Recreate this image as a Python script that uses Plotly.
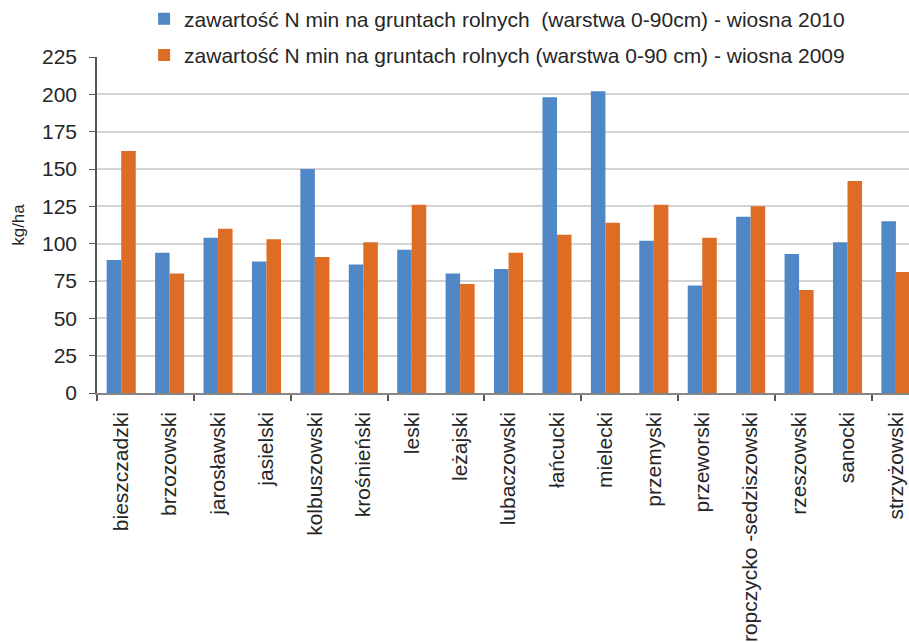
import plotly.graph_objects as go

categories = ["bieszczadzki", "brzozowski", "jarosławski", "jasielski", "kolbuszowski",
              "krośnieński", "leski", "leżajski", "lubaczowski", "łańcucki", "mielecki",
              "przemyski", "przeworski", "ropczycko -sedziszowski", "rzeszowski", "sanocki",
              "strzyżowski"]
spring_2010 = [89, 94, 104, 88, 150, 86, 96, 80, 83, 198, 202, 102, 72, 118, 93, 101, 115]
spring_2009 = [162, 80, 110, 103, 91, 101, 126, 73, 94, 106, 114, 126, 104, 125, 69, 142, 81]
name_2010 = "zawartość N min na gruntach rolnych  (warstwa 0-90cm) - wiosna 2010"
name_2009 = "zawartość N min na gruntach rolnych (warstwa 0-90 cm) - wiosna 2009"
y_ticks = [0, 25, 50, 75, 100, 125, 150, 175, 200, 225]

x_idx = list(range(len(categories)))
FONT = "Liberation Sans, Arial, sans-serif"
TXT = "#262626"

fig = go.Figure()
fig.add_trace(go.Bar(x=x_idx, y=spring_2010, name=name_2010, marker_color="#5087C7",
                     marker_line_width=0, legend="legend", showlegend=True))
fig.add_trace(go.Bar(x=x_idx, y=spring_2009, name=name_2009, marker_color="#DD6C25",
                     marker_line_width=0, legend="legend2", showlegend=True))

legend_style = dict(font=dict(family=FONT, size=21, color=TXT), bgcolor="rgba(0,0,0,0)",
                    xanchor="left", yanchor="middle", itemwidth=30, visible=True)

fig.update_layout(
    width=909, height=642,
    margin=dict(l=97, r=0, t=57, b=249, autoexpand=False),
    paper_bgcolor="white", plot_bgcolor="white",
    barmode="group", bargap=0.4, bargroupgap=0,
    showlegend=True,
    font=dict(family=FONT, size=21, color=TXT),
    legend=dict(x=0.058, y=1.113, **legend_style),
    legend2=dict(x=0.058, y=1.005, **legend_style),
    xaxis=dict(
        tickmode="array", tickvals=x_idx, ticktext=categories, tickangle=-90,
        range=[-0.5, 16.27], showgrid=False, ticks="", showline=True,
        linecolor="#868686", linewidth=1.5, ticklabelstandoff=9, automargin=False,
        tickfont=dict(family=FONT, size=21, color=TXT),
        minor=dict(tickvals=[-0.5, 1.5, 3.5, 5.5, 7.5, 9.5, 11.5, 13.5, 15.5],
                   ticks="outside", ticklen=6, tickcolor="#555555", tickwidth=1.5),
    ),
    yaxis=dict(
        range=[0, 225], tickmode="array", tickvals=y_ticks,
        showgrid=True, gridcolor="#D4D4D4", gridwidth=1.5,
        showline=True, linecolor="#555555", linewidth=1.5, automargin=False,
        ticks="outside", ticklen=6, tickcolor="#555555", ticklabelstandoff=8,
        tickfont=dict(family=FONT, size=21, color=TXT),
        title=dict(text="kg/ha", font=dict(family=FONT, size=17, color=TXT), standoff=13),
        zeroline=False,
    ),
)

fig.write_html("out.html")
